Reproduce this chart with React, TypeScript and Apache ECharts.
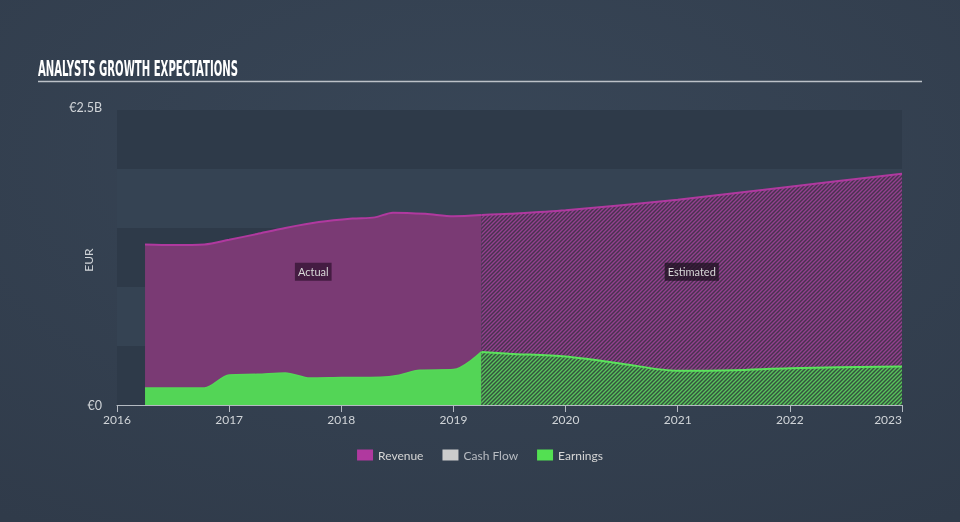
import React, { useEffect, useRef } from "react";
import * as echarts from "echarts";

const revenueActualX = [2016.25, 2016.5, 2016.78, 2017.0, 2017.25, 2017.5, 2017.8, 2018.1, 2018.3, 2018.46, 2018.75, 2019.0, 2019.25];
const revenueActualY = [1.36, 1.355, 1.36, 1.4, 1.45, 1.5, 1.55, 1.58, 1.59, 1.63, 1.62, 1.6, 1.61];
const revenueEstX = [2019.25, 2019.5, 2020.0, 2021.0, 2022.0, 2023.0];
const revenueEstY = [1.61, 1.62, 1.65, 1.74, 1.85, 1.96];
const earningsActualX = [2016.25, 2016.5, 2016.78, 2017.0, 2017.25, 2017.5, 2017.72, 2018.0, 2018.35, 2018.5, 2018.7, 2019.0, 2019.25];
const earningsActualY = [0.145, 0.145, 0.145, 0.255, 0.26, 0.272, 0.228, 0.232, 0.235, 0.25, 0.295, 0.3, 0.45];
const earningsEstX = [2019.25, 2019.5, 2020.0, 2020.5, 2021.0, 2021.5, 2022.0, 2023.0];
const earningsEstY = [0.45, 0.435, 0.41, 0.35, 0.29, 0.295, 0.312, 0.326];
const legendNames = ["Revenue", "Cash Flow", "Earnings"];
const yTickLabels: Record<string, string> = { "0": "€0", "2.5": "{top|€2.5B}" };
const regionLabels = ["Actual", "Estimated"];

const zip = (xs: number[], ys: number[]) => xs.map((x, i) => [x, ys[i]]);

function makePattern(bg: string, fg: string) {
  const s = 4;
  const c = document.createElement("canvas");
  c.width = s;
  c.height = s;
  const ctx = c.getContext("2d")!;
  ctx.fillStyle = bg;
  ctx.fillRect(0, 0, s, s);
  ctx.strokeStyle = fg;
  ctx.lineWidth = 1.4;
  ctx.beginPath();
  ctx.moveTo(0, s);
  ctx.lineTo(s, 0);
  ctx.moveTo(-1, 1);
  ctx.lineTo(1, -1);
  ctx.moveTo(s - 1, s + 1);
  ctx.lineTo(s + 1, s - 1);
  ctx.stroke();
  return c;
}

export default function App() {
  const ref = useRef<HTMLDivElement>(null);
  useEffect(() => {
    if (!ref.current) return;
    const chart = echarts.init(ref.current, null, { renderer: "svg" });
    const font = "Lato, 'Open Sans', sans-serif";
    const revPattern = makePattern("#48324f", "#93408f");
    const earnPattern = makePattern("#35513f", "#58c45b");
    const actualMidX = (revenueActualX[0] + revenueActualX[revenueActualX.length - 1]) / 2;
    const estMidX = (revenueEstX[0] + revenueEstX[revenueEstX.length - 1]) / 2;
    const labelStyle = {
      show: true,
      color: "#d8d8d8",
      fontSize: 11,
      fontFamily: font,
      backgroundColor: "rgba(40,12,40,0.65)",
      padding: [4, 3, 3, 3],
      position: "inside",
    };
    chart.setOption({
      animation: false,
      backgroundColor: new echarts.graphic.RadialGradient(0.5, 0.3, 0.85, [
        { offset: 0, color: "#384657" },
        { offset: 1, color: "#303b4a" },
      ]),
      textStyle: { fontFamily: font },
      graphic: [
        {
          type: "text",
          x: 38,
          y: 58,
          scaleX: 0.535,
          style: {
            text: "ANALYSTS GROWTH EXPECTATIONS",
            fill: "#ffffff",
            font: "bold 21px 'Liberation Sans Narrow', 'DejaVu Sans Condensed', sans-serif",
            verticalAlign: "top",
          },
        },
        {
          type: "line",
          shape: { x1: 38, y1: 81.5, x2: 922, y2: 81.5 },
          style: { stroke: "#bcc1c8", lineWidth: 1.5 },
        },
        {
          type: "text",
          x: 88,
          y: 260,
          rotation: Math.PI / 2,
          style: {
            text: "EUR",
            fill: "#d0d4d8",
            font: "12px Lato, 'Open Sans', sans-serif",
            align: "center",
            verticalAlign: "middle",
          },
        },
      ],
      grid: { left: 117, right: 58, top: 110, bottom: 117 },
      legend: {
        top: 444,
        left: "center",
        icon: "rect",
        itemWidth: 16,
        itemHeight: 11,
        itemGap: 19,
        textStyle: { color: "#d6d6d6", fontSize: 12, fontFamily: font },
        data: [
          { name: legendNames[0], itemStyle: { color: "#b0399f" } },
          { name: legendNames[1], itemStyle: { color: "#cccccc" }, textStyle: { color: "#b8bcc2" } },
          { name: legendNames[2], itemStyle: { color: "#53e052" } },
        ],
      },
      xAxis: {
        type: "value",
        min: 2016,
        max: 2023,
        interval: 1,
        axisLine: { show: true, lineStyle: { color: "#b4bac2", width: 1 } },
        axisTick: { show: true, length: 7, lineStyle: { color: "#b4bac2" } },
        splitLine: { show: false },
        axisLabel: {
          color: "#d0d4d8",
          fontSize: 12,
          margin: 8,
          alignMaxLabel: "right",
          formatter: (v: number) => String(v),
        },
      },
      yAxis: {
        type: "value",
        min: 0,
        max: 2.5,
        interval: 0.5,
        axisLine: { show: false },
        axisTick: { show: false },
        splitLine: { show: false },
        splitArea: { show: true, areaStyle: { color: ["#2e3a49", "#354353"] } },
        axisLabel: {
          color: "#d0d4d8",
          fontSize: 12.5,
          margin: 15,
          rich: { top: { fontSize: 12.5, color: "#d0d4d8", padding: [0, 0, 6, 0] } },
          formatter: (v: number) => yTickLabels[String(v)] ?? "",
        },
      },
      series: [
        {
          name: "Revenue",
          type: "line",
          data: zip(revenueActualX, revenueActualY),
          smooth: 0.3,
          symbol: "none",
          z: 2,
          lineStyle: { color: "#b0399f", width: 2 },
          areaStyle: { color: "#7a3a74", opacity: 1 },
          itemStyle: { color: "#b0399f" },
          markPoint: {
            symbol: "rect",
            symbolSize: 1,
            itemStyle: { color: "rgba(0,0,0,0)" },
            label: { ...labelStyle, formatter: regionLabels[0] },
            data: [{ coord: [actualMidX, 1.13] }],
          },
        },
        {
          name: "Revenue",
          type: "line",
          data: zip(revenueEstX, revenueEstY),
          smooth: 0.3,
          symbol: "none",
          z: 2,
          lineStyle: { color: "#b0399f", width: 2 },
          areaStyle: { color: { image: revPattern, repeat: "repeat" }, opacity: 1 },
          itemStyle: { color: "#b0399f" },
          markPoint: {
            symbol: "rect",
            symbolSize: 1,
            itemStyle: { color: "rgba(0,0,0,0)" },
            label: { ...labelStyle, backgroundColor: "rgba(30,18,32,0.75)", formatter: regionLabels[1] },
            data: [{ coord: [estMidX, 1.13] }],
          },
        },
        {
          name: "Cash Flow",
          type: "line",
          data: [],
          itemStyle: { color: "#cccccc" },
        },
        {
          name: "Earnings",
          type: "line",
          data: zip(earningsActualX, earningsActualY),
          smooth: 0.3,
          symbol: "none",
          z: 3,
          lineStyle: { color: "#55d857", width: 1.5 },
          areaStyle: { color: "#53d556", opacity: 1 },
          itemStyle: { color: "#53e052" },
        },
        {
          name: "Earnings",
          type: "line",
          data: zip(earningsEstX, earningsEstY),
          smooth: 0.3,
          symbol: "none",
          z: 3,
          lineStyle: { color: "#5be35c", width: 2 },
          areaStyle: { color: { image: earnPattern, repeat: "repeat" }, opacity: 1 },
          itemStyle: { color: "#53e052" },
        },
      ],
    });
    return () => chart.dispose();
  }, []);
  return <div ref={ref} style={{ position: "fixed", left: 0, top: 0, width: 960, height: 522 }} />;
}
